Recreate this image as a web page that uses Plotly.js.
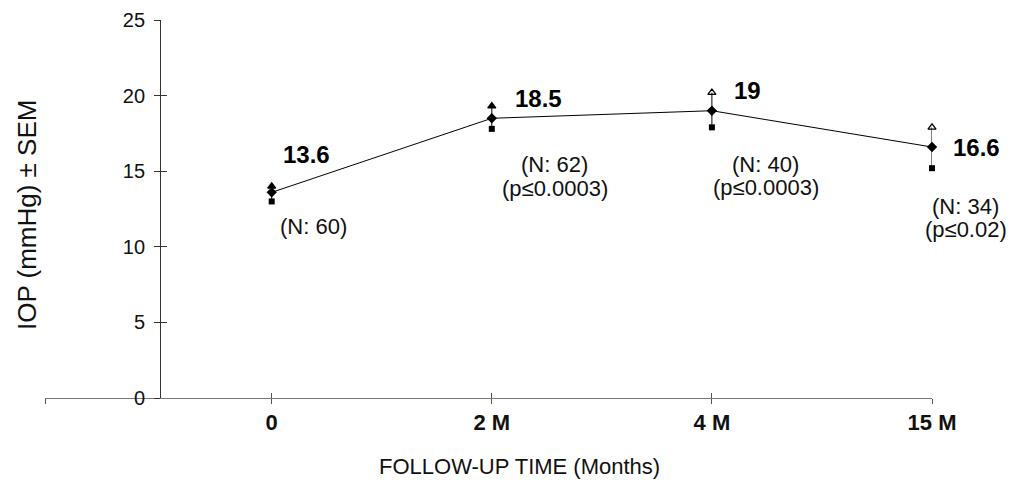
<!DOCTYPE html>
<html>
<head>
<meta charset="utf-8">
<script src="https://cdn.plot.ly/plotly-3.0.1.min.js"></script>
<style>html,body{margin:0;padding:0;background:#fff;}#chart{width:1019px;height:481px;}</style>
</head>
<body>
<div id="chart"></div>
<script>
// ---- data ----
const categories = ['0', '2 M', '4 M', '15 M'];
const meanIOP = [13.6, 18.5, 19, 16.6];
const upperIOP = [14.0, 19.3, 20.2, 17.9];
const lowerIOP = [13.0, 17.8, 17.9, 15.2];
const valueLabels = ['13.6', '18.5', '19', '16.6'];
const nLabels = ['(N: 60)', '(N: 62)', '(N: 40)', '(N: 34)'];
const pLabels = ['', '(p≤0.0003)', '(p≤0.0003)', '(p≤0.02)'];
const yTicks = [0, 5, 10, 15, 20, 25];

// ---- derived ----
const xi = categories.map((_, i) => i);
const errPlus = upperIOP.map((u, i) => +(u - meanIOP[i]).toFixed(3));
const errMinus = lowerIOP.map((l, i) => +(meanIOP[i] - l).toFixed(3));

const FONT = 'Liberation Sans, Arial, sans-serif';
const XRANGE = [-1.03, 3];
const YRANGE = [0, 25];
const YPOS = 0.1297;

const traces = [
  {
    x: xi, y: meanIOP, type: 'scatter', mode: 'lines+markers',
    line: {color: '#000', width: 1},
    marker: {symbol: 'diamond', size: 8, color: '#000'},
    error_y: {type: 'data', symmetric: false, array: errPlus, arrayminus: errMinus,
              color: '#000', thickness: 1, width: 0},
    cliponaxis: false, hoverinfo: 'skip', showlegend: false
  },
  {
    x: xi, y: upperIOP, type: 'scatter', mode: 'markers',
    marker: {symbol: ['triangle-up', 'triangle-up', 'triangle-up-open', 'triangle-up-open'],
             size: 7, color: '#000', line: {color: '#000', width: 1.3}},
    cliponaxis: false, hoverinfo: 'skip', showlegend: false
  },
  {
    x: xi, y: lowerIOP, type: 'scatter', mode: 'markers',
    marker: {symbol: 'square', size: 6, color: '#000'},
    cliponaxis: false, hoverinfo: 'skip', showlegend: false
  },
  // dummy traces to activate the overlay axes (crossing ticks)
  {x: [], y: [], xaxis: 'x2', yaxis: 'y', type: 'scatter', showlegend: false, hoverinfo: 'skip'},
  {x: [], y: [], xaxis: 'x', yaxis: 'y2', type: 'scatter', showlegend: false, hoverinfo: 'skip'}
];

const annotations = [];
const valShift = [[35, 38], [47, 20], [36, 20], [44, 0]];
const nShift = [[42, -34], [63, -46], [54, -54], [33, -59]];
const pShift = [[0, 0], [63, -70], [54, -77], [34, -82]];
xi.forEach((x, i) => {
  annotations.push({x: x, y: meanIOP[i], xref: 'x', yref: 'y', text: valueLabels[i], showarrow: false,
    xshift: valShift[i][0], yshift: valShift[i][1], font: {family: FONT, size: 24, color: '#000', weight: 'bold'}});
  annotations.push({x: x, y: meanIOP[i], xref: 'x', yref: 'y', text: nLabels[i], showarrow: false,
    xshift: nShift[i][0], yshift: nShift[i][1], font: {family: FONT, size: 22, color: '#111'}});
  if (pLabels[i]) {
    annotations.push({x: x, y: meanIOP[i], xref: 'x', yref: 'y', text: pLabels[i], showarrow: false,
      xshift: pShift[i][0], yshift: pShift[i][1], font: {family: FONT, size: 22, color: '#111'}});
  }
});
annotations.push({xref: 'paper', yref: 'paper', x: -0.0203, y: 0.484, text: 'IOP (mmHg) ± SEM',
  textangle: -90, showarrow: false, xanchor: 'center', yanchor: 'middle',
  font: {family: FONT, size: 26, color: '#111'}});
annotations.push({xref: 'paper', yref: 'paper', x: 0.5355, y: -0.1825, text: 'FOLLOW-UP TIME (Months)',
  showarrow: false, xanchor: 'center', yanchor: 'middle',
  font: {family: FONT, size: 22, color: '#111'}});

const xTickVals = [XRANGE[0]].concat(xi);
const xTickText = [''].concat(categories);

const layout = {
  width: 1019, height: 481,
  margin: {l: 45, r: 87, t: 20, b: 83},
  paper_bgcolor: '#fff', plot_bgcolor: '#fff',
  showlegend: false,
  xaxis: {
    range: XRANGE, type: 'linear', tickmode: 'array', tickvals: xTickVals, ticktext: xTickText,
    showgrid: false, zeroline: false, showline: true, linecolor: '#777', linewidth: 1,
    ticks: 'outside', ticklen: 5, tickcolor: '#555', tickwidth: 1,
    tickfont: {family: 'Liberation Sans Narrow, Arial Narrow, Liberation Sans, Arial', size: 22, color: '#111', weight: 'bold'},
    anchor: 'y', fixedrange: true
  },
  xaxis2: {
    range: XRANGE, type: 'linear', tickmode: 'array', tickvals: xTickVals, overlaying: 'x', anchor: 'y', side: 'bottom',
    showgrid: false, zeroline: false, showline: false, showticklabels: false,
    ticks: 'inside', ticklen: 5, tickcolor: '#555', tickwidth: 1, fixedrange: true
  },
  yaxis: {
    range: YRANGE, tickmode: 'array', tickvals: yTicks,
    anchor: 'free', position: YPOS,
    showgrid: false, zeroline: false, showline: true, linecolor: '#333', linewidth: 1,
    ticks: 'outside', ticklen: 6, tickcolor: '#333', tickwidth: 1, ticklabelstandoff: 5,
    tickfont: {family: FONT, size: 20, color: '#111'}, fixedrange: true
  },
  yaxis2: {
    range: YRANGE, tickmode: 'array', tickvals: yTicks, overlaying: 'y', anchor: 'free', position: YPOS,
    showgrid: false, zeroline: false, showline: false, showticklabels: false,
    ticks: 'inside', ticklen: 6, tickcolor: '#333', tickwidth: 1, fixedrange: true
  },
  annotations: annotations
};

Plotly.newPlot('chart', traces, layout, {displayModeBar: false, staticPlot: true});
</script>
</body>
</html>
